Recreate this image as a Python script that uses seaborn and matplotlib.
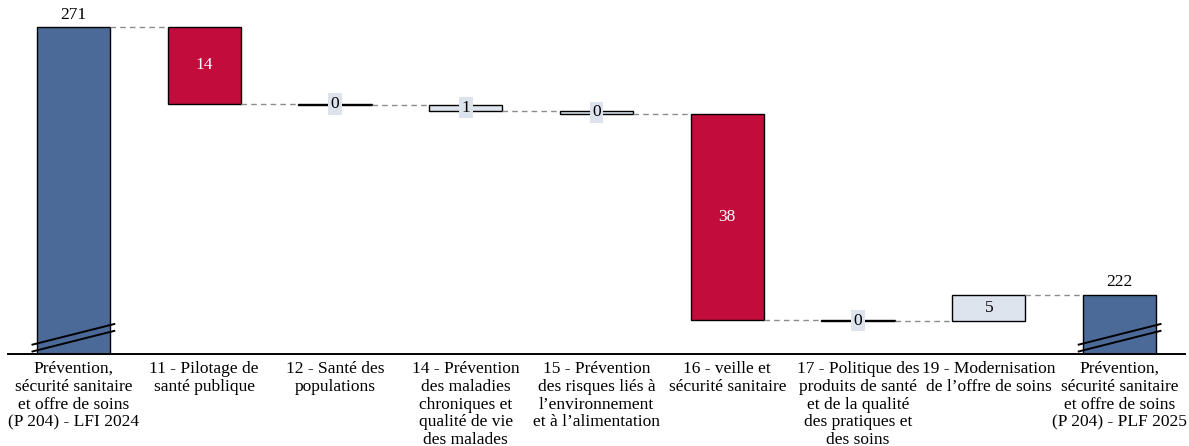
import numpy as np
import pandas as pd
import matplotlib
matplotlib.use("Agg")
import matplotlib.pyplot as plt
import seaborn as sns

# Programme 204 : passage de la LFI 2024 au PLF 2025 (M€)
categories = [
    "Prévention,\nsécurité sanitaire\net offre de soins\n(P 204) - LFI 2024",
    "11 - Pilotage de\nsanté publique",
    "12 - Santé des\npopulations",
    "14 - Prévention\ndes maladies\nchroniques et\nqualité de vie\ndes malades",
    "15 - Prévention\ndes risques liés à\nl’environnement\net à l’alimentation",
    "16 - veille et\nsécurité sanitaire",
    "17 - Politique des\nproduits de santé\net de la qualité\ndes pratiques et\ndes soins",
    "19 - Modernisation\nde l’offre de soins",
    "Prévention,\nsécurité sanitaire\net offre de soins\n(P 204) - PLF 2025",
]
start_total = 271.0
changes = [-14.0, -0.15, -1.2, -0.45, -37.8, -0.1, 4.8]

end_total = start_total + sum(changes)
levels = np.concatenate([[start_total], start_total + np.cumsum(changes)])

heights = [start_total] + [abs(c) for c in changes] + [end_total]
bottoms = [0.0] + [min(levels[i], levels[i + 1]) for i in range(len(changes))] + [0.0]
values = [start_total] + list(changes) + [end_total]

C_TOTAL = "#4b6a98"
C_DOWN = "#c20c3c"
C_LIGHT = "#dde4ee"
colors = [C_TOTAL] + [C_DOWN if (c < 0 and abs(c) >= 2) else C_LIGHT for c in changes] + [C_TOTAL]

sns.set_theme(style="white")
plt.rcParams["font.family"] = ["Liberation Serif", "DejaVu Serif"]

df = pd.DataFrame({"cat": categories, "height": heights})

fig = plt.figure(figsize=(11.89, 4.46), dpi=100)
ax = fig.add_axes([8 / 1189, 1 - 354 / 446, 1177 / 1189, 354 / 446])

bar_w = 0.56
sns.barplot(data=df, x="cat", y="height", hue="cat", palette=colors, legend=False,
            width=bar_w, edgecolor="black", linewidth=1, saturation=1, ax=ax)
for patch, b in zip(ax.patches, bottoms):
    patch.set_y(b)

ymin, ymax = 211.25, 275.95
ax.set_ylim(ymin, ymax)
ax.set_xlim(-0.5, len(categories) - 0.5)

# dashed connectors between consecutive bars
for i in range(len(categories) - 1):
    lvl = levels[i] if i < len(levels) else end_total
    ax.plot([i + bar_w / 2, i + 1 - bar_w / 2], [lvl, lvl], ls=(0, (4, 3)),
            color="#8c8c8c", lw=1, zorder=1)

# axis-break marks on the two total bars
for i in (0, len(categories) - 1):
    for off in (0.0, 1.25):
        ax.plot([i - 0.32, i + 0.32], [ymin + 0.42 + off, ymin + 4.27 + off],
                color="black", lw=1.4, zorder=5, solid_capstyle="butt")

# value labels
fs = 12.5
for i, (v, b, h) in enumerate(zip(values, bottoms, heights)):
    txt = f"{abs(v):.0f}"
    if i in (0, len(categories) - 1):
        ax.text(i, b + h + 0.8, txt, ha="center", va="bottom", fontsize=fs, color="black")
    elif colors[i] == C_DOWN:
        ax.text(i, b + h / 2, txt, ha="center", va="center", fontsize=fs, color="white")
    else:
        ax.text(i, b + h / 2, txt, ha="center", va="center", fontsize=fs, color="black",
                bbox=dict(boxstyle="square,pad=0.15", fc="#dde3ec", ec="none"), zorder=6)

ax.set_xlabel("")
ax.set_ylabel("")
ax.set_yticks([])
ax.set_xticks(range(len(categories)))
ax.set_xticklabels(categories, fontsize=fs, linespacing=1.15, color="black")
ax.tick_params(axis="x", length=0, pad=5)
for s in ("top", "right", "left"):
    ax.spines[s].set_visible(False)
ax.spines["bottom"].set_color("black")
ax.spines["bottom"].set_linewidth(1.4)

fig.savefig("out.png", dpi=100)
